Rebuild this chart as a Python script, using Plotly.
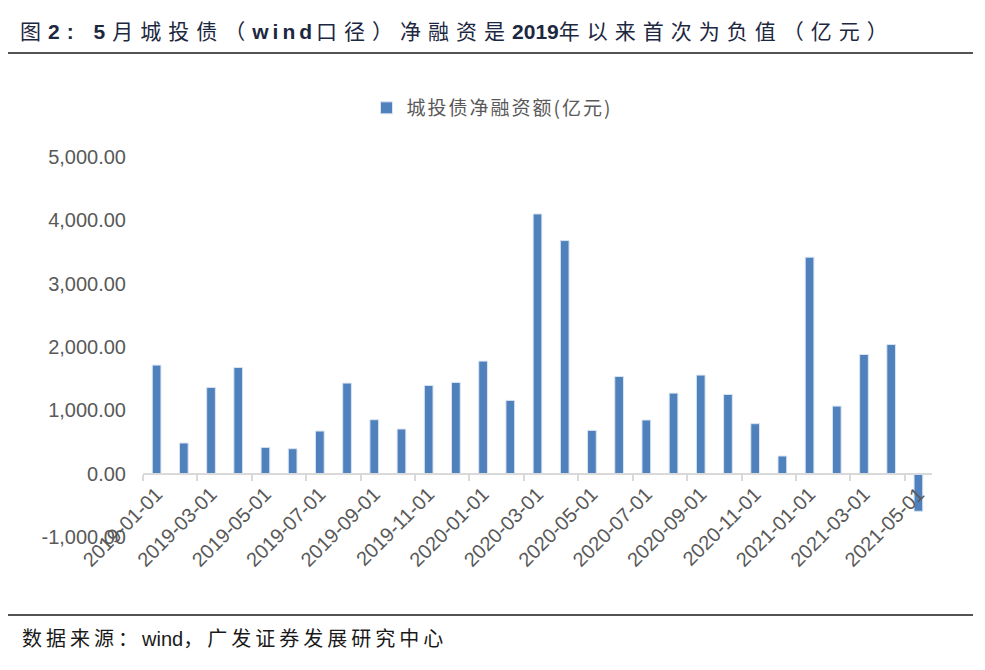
import plotly.graph_objects as go

# ---- data ----
months = [
    "2019-01-01", "2019-02-01", "2019-03-01", "2019-04-01", "2019-05-01", "2019-06-01",
    "2019-07-01", "2019-08-01", "2019-09-01", "2019-10-01", "2019-11-01", "2019-12-01",
    "2020-01-01", "2020-02-01", "2020-03-01", "2020-04-01", "2020-05-01", "2020-06-01",
    "2020-07-01", "2020-08-01", "2020-09-01", "2020-10-01", "2020-11-01", "2020-12-01",
    "2021-01-01", "2021-02-01", "2021-03-01", "2021-04-01", "2021-05-01",
]
net_financing = [
    1714, 484, 1362, 1677, 415, 394, 673, 1430, 852, 705, 1393, 1440,
    1777, 1157, 4101, 3680, 684, 1535, 847, 1272, 1556, 1251, 789, 279,
    3418, 1067, 1882, 2040, -594,
]
series_name = "城投债净融资额(亿元)"
y_ticks = [-1000, 0, 1000, 2000, 3000, 4000, 5000]


def sp(text, px):
    return '<span style="letter-spacing:%spx">%s</span>' % (px, text)


title_html = (sp('图<b>2:</b> <b>5</b>月城投债（', 7) + sp('<b>wind</b>', 4)
              + sp('口径）净融资是', 7)
              + '<b>2019</b>' + sp('年以来首次为负值（亿元）', 7))
source_html = sp('数据来源：', 4) + 'wind' + sp('，广发证券发展研究中心', 4)

# ---- layout geometry (pixels; page has an 8px body offset) ----
OFF = 8
W, H = 985, 670
L, T = 143 - OFF, 157 - OFF
PW, PH = 789, 380
R, B = W - L - PW, H - T - PH


def px_x(px):
    return (px - OFF - L) / PW


def px_y(py):
    return (T + PH - (py - OFF)) / PH


idx = list(range(len(months)))
label_pos = idx[::2]
label_text = months[::2]
boundaries = [i - 0.5 for i in label_pos]

y_min, y_max = y_ticks[0], y_ticks[-1]
y_text = [f"{v:,.2f}" for v in y_ticks]

CJK = "Liberation Sans, Noto Sans CJK SC, sans-serif"

fig = go.Figure()
fig.add_trace(go.Bar(
    x=idx, y=net_financing, name=sp(series_name, 2), width=0.32,
    marker=dict(color="#4F81BD", line=dict(color="#dbe4f1", width=1)),
    showlegend=True,
))

fig.update_layout(
    width=W, height=H,
    margin=dict(l=L, r=R, t=T, b=B),
    paper_bgcolor="white", plot_bgcolor="white",
    font=dict(family=CJK, color="#595959"),
    title=dict(
        text=title_html,
        xref="container", yref="container", x=(20 - OFF) / W, y=1 - (32 - OFF) / H,
        xanchor="left", yanchor="middle",
        font=dict(family=CJK, size=21, color="#1c2740"),
    ),
    showlegend=True,
    legend=dict(
        orientation="h", x=px_x(492), y=px_y(108), xanchor="center", yanchor="middle",
        font=dict(family="Noto Sans CJK SC, sans-serif", size=19, color="#595959"),
        bgcolor="rgba(0,0,0,0)",
    ),
    bargap=0.68,
    xaxis=dict(
        range=[-0.5, len(months) - 0.5],
        tickmode="array", tickvals=label_pos, ticktext=label_text,
        tickangle=-45, ticks="", showgrid=False, zeroline=False,
        showline=True, linecolor="#d9d9d9", linewidth=2,
        anchor="free", position=(0 - y_min) / (y_max - y_min),
        tickfont=dict(family="Liberation Sans, Arial, sans-serif", size=20, color="#595959"),
        minor=dict(tickmode="array", tickvals=boundaries, ticks="outside",
                   ticklen=6, tickwidth=2, tickcolor="#d9d9d9", showgrid=False),
    ),
    yaxis=dict(
        range=[y_min, y_max], tickmode="array", tickvals=y_ticks, ticktext=y_text,
        showgrid=False, zeroline=False, showline=False, ticks="",
        ticklabelstandoff=16,
        tickfont=dict(family="Liberation Sans, Arial, sans-serif", size=20, color="#595959"),
    ),
    shapes=[
        dict(type="line", xref="paper", yref="paper", x0=px_x(6), x1=px_x(973),
             y0=px_y(53), y1=px_y(53), line=dict(color="#1a1a1a", width=1.5)),
        dict(type="line", xref="paper", yref="paper", x0=px_x(6), x1=px_x(973),
             y0=px_y(615), y1=px_y(615), line=dict(color="#1a1a1a", width=1.5)),
    ],
    annotations=[
        dict(text=source_html,
             xref="paper", yref="paper", x=px_x(20), y=px_y(639),
             xanchor="left", yanchor="middle", showarrow=False,
             font=dict(family=CJK, size=20, color="#1a1a1a")),
    ],
)

fig.write_html("out.html")
